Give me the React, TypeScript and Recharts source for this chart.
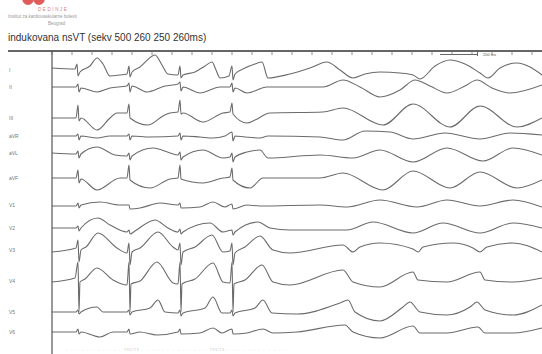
import React from 'react';
import { LineChart, Line, XAxis, YAxis } from 'recharts';

// lead names, top to bottom
const leadNames = ['I', 'II', 'III', 'aVR', 'aVL', 'aVF', 'V1', 'V2', 'V3', 'V4', 'V5', 'V6'];

// samples per lead: [time ms, amplitude mV]
const leadI = [
  [0, 0.2], [115, 0.1], [125, 0.6], [130, -0.6], [140, -0.2], [190, 0.4], [225, 1.2], [255, 0.6], [290, -0.6],
  [340, -0.5], [375, -0.4], [385, 0.4], [390, -0.7], [400, -0.2], [440, 0.3], [515, 1.5], [550, 0.5], [580, -0.4],
  [630, -0.5], [640, 0.4], [645, -0.8], [655, -0.5], [715, -0.2], [765, 0.4], [800, 0.8], [820, 0], [840, -0.8],
  [885, -0.6], [900, 0.4], [905, -1.0], [915, -0.4], [965, 0.2], [1015, 0.6], [1050, 0.8], [1080, -0.8],
  [1190, -0.4], [1290, 0.2], [1375, 0.8], [1440, 0], [1505, -0.8], [1565, -0.4], [1640, -0.2], [1740, -0.3],
  [1805, -0.5], [1840, -0.9], [1915, 0.4], [1990, 1.0], [2065, 0.6], [2140, -0.3], [2180, -0.8], [2240, 0.2],
  [2325, 0.7], [2390, 0.3], [2450, -0.5],
];
const leadII = [
  [0, 0], [120, 0], [130, 0.3], [135, -0.5], [145, -0.1], [225, -0.5], [290, -0.1], [375, 0.1], [385, 0.4],
  [390, -0.5], [400, 0.1], [475, -0.5], [565, 0.1], [630, 0.3], [640, 0.5], [645, -0.4], [655, 0], [740, -0.6],
  [840, 0], [890, 0], [900, 0.4], [905, -0.5], [915, -0.1], [975, -0.6], [1075, 0], [1355, 0], [1455, 0.7],
  [1540, 0], [1640, -1.0], [1740, -0.3], [1815, 0.7], [1890, 0.1], [1975, -0.6], [2065, 0.1], [2125, 0.7],
  [2200, -0.1], [2290, -0.6], [2450, 0.2],
];
const leadIII = [
  [0, 0], [120, 0], [130, 1.3], [135, -0.3], [145, 0], [225, -1.2], [290, 0], [325, 0.5], [375, 0.5], [385, 1.4],
  [390, 0], [480, -0.7], [555, 0.2], [590, 0.5], [630, 0.6], [640, 1.8], [645, 0.4], [655, 0.5], [755, -0.4],
  [855, 0.5], [890, 0.6], [900, 1.5], [905, 0.4], [975, -0.5], [1015, -0.2], [1090, 0.5], [1355, 0.6],
  [1455, 1.0], [1655, -0.7], [1805, 1.4], [1990, -0.9], [2140, 1.2], [2325, -0.9], [2450, 0],
];
const leadAVR = [
  [0, 0], [120, 0], [130, 0.2], [135, -0.4], [145, 0], [225, -0.2], [290, 0], [375, 0], [385, 0.2], [390, -0.4],
  [400, 0], [490, -0.1], [630, 0], [640, 0.3], [645, -0.4], [655, 0], [740, -0.1], [805, -0.2], [865, 0],
  [900, 0.4], [905, -0.5], [915, 0], [965, -0.1], [1040, -0.2], [1080, 0], [1340, -0.1], [1455, -0.4],
  [1565, 0.5], [1690, 0.4], [1805, -0.3], [1965, 0.3], [2140, -0.3], [2290, 0.3], [2450, 0.1],
];
const leadAVL = [
  [0, 0], [120, -0.1], [130, 0.2], [135, -0.5], [145, -0.1], [225, 0.6], [315, -0.2], [375, -0.3], [385, 0],
  [390, -0.7], [400, -0.3], [505, 0.5], [590, 0], [630, -0.2], [640, 0.1], [645, -0.7], [655, -0.4], [755, 0.3],
  [855, -0.5], [890, -0.4], [900, 0], [905, -0.9], [915, -0.4], [975, 0.1], [1040, 0.3], [1080, -0.5],
  [1340, -0.2], [1505, -0.5], [1640, 0.3], [1805, -0.9], [1975, 0.5], [2155, -0.8], [2305, 0.5], [2450, -0.2],
];
const leadAVF = [
  [0, 0], [120, 0], [130, 0.8], [135, -0.5], [145, -0.1], [225, -1.2], [340, 0], [375, 0], [385, 1.3], [390, -0.2],
  [490, -1.0], [590, -0.1], [630, 0], [640, 1.3], [645, -0.1], [755, -0.5], [855, 0], [890, 0.1], [900, 1.0],
  [905, -0.2], [990, -1.0], [1055, 0], [1340, 0], [1455, 0.5], [1655, -1.2], [1805, 0.7], [1990, -1.0],
  [2140, 0.6], [2325, -1.0], [2450, -0.2],
];
const leadV1 = [
  [0, -0.1], [120, -0.1], [130, 0.2], [135, -0.3], [145, 0], [240, 0.3], [340, 0], [385, 0], [390, -0.4],
  [440, -0.3], [540, 0.2], [630, 0], [640, 0.2], [645, -0.3], [740, -0.2], [805, 0.3], [865, -0.2], [900, 0.1],
  [905, -0.4], [975, 0], [1040, -0.1], [1340, 0], [1475, -0.2], [1640, 0.5], [1825, -0.2], [1975, 0.5],
  [2140, -0.1], [2305, 0.5], [2450, -0.2],
];
const leadV2 = [
  [0, 0], [120, 0], [130, 0.2], [135, -0.3], [145, 0], [230, 1.0], [290, 0.3], [375, -0.4], [385, -0.2],
  [390, -0.6], [415, -0.3], [515, 0.8], [580, 0], [630, -0.4], [640, -0.1], [645, -0.6], [655, -0.4], [790, 0.5],
  [855, -0.4], [900, -0.2], [905, -0.7], [915, -0.4], [1030, 0.6], [1090, 0], [1190, -0.2], [1475, -0.2],
  [1605, 0.6], [1805, -0.5], [1955, 0.5], [2140, -0.5], [2305, 0.5], [2450, 0],
];
const leadV3 = [
  [0, -0.2], [120, 0.2], [130, 1.0], [135, -1.2], [145, 0], [170, 0.3], [230, 1.7], [325, 0.2], [375, -0.3],
  [385, 0.7], [390, -1.5], [400, -0.2], [440, 0.2], [530, 1.8], [605, 0.3], [630, 0], [640, 0.7], [645, -1.5],
  [655, -0.2], [715, 0.3], [800, 1.5], [855, -0.2], [890, -0.1], [900, 0.7], [905, -1.5], [915, -0.3],
  [965, 0.3], [1040, 1.4], [1105, 0], [1190, -0.3], [1455, 0.5], [1505, -0.2], [1540, 0.3], [1640, 0.7],
  [1805, 0.1], [1830, -0.2], [1855, 0.3], [2005, 0.7], [2105, 0.2], [2140, -0.2], [2175, 0.3], [2305, 0.7],
  [2450, -0.2],
];
const leadV4 = [
  [0, -0.1], [115, 0.3], [130, 1.9], [135, -3.1], [140, -0.1], [165, 0.2], [225, 1.3], [305, 0.1], [375, -0.4],
  [385, 1.9], [390, -3.1], [395, -0.3], [440, 0], [525, 1.9], [605, -0.2], [630, -0.3], [640, 1.9], [645, -3.1],
  [650, -0.3], [715, 0.2], [805, 1.8], [855, -0.1], [890, -0.2], [900, 1.9], [905, -3.1], [910, -0.3],
  [965, 0.1], [1050, 1.6], [1105, -0.1], [1190, -0.4], [1455, 1.1], [1505, -0.1], [1640, -0.6], [1805, 0.9],
  [1830, 0.1], [1975, -0.1], [2140, 0.9], [2165, 0.1], [2305, -0.1], [2450, 0.3],
];
const leadV5 = [
  [0, 0], [120, 0], [130, 0.2], [135, -0.2], [145, 0], [225, 0.5], [255, 0], [375, 0], [385, 0.2], [390, -0.3],
  [400, 0], [490, 0.4], [530, 1.2], [565, 0], [630, -0.1], [640, 0.2], [645, -0.4], [655, -0.1], [765, 0.4],
  [805, 1.5], [850, -0.1], [890, -0.1], [900, 0.2], [905, -0.4], [915, -0.1], [1015, 0.4], [1055, 1.2],
  [1100, -0.1], [1225, -0.2], [1440, 0.9], [1480, 1.2], [1515, 0], [1640, -0.9], [1755, 0.5], [1790, 1.0],
  [1840, 0], [1975, -0.3], [2090, 0.5], [2125, 1.0], [2165, 0.2], [2305, -0.3], [2450, 0.7],
];
const leadV6 = [
  [0, 0], [120, 0], [130, 0.3], [135, -0.2], [145, 0], [240, -0.5], [305, 0], [375, 0], [385, 0.3], [390, -0.2],
  [440, 0], [525, -0.3], [630, 0], [640, 0.3], [645, -0.2], [740, -0.1], [805, 0.4], [850, -0.1], [900, 0.3],
  [905, -0.2], [975, -0.1], [1055, 0.3], [1105, -0.1], [1225, 0], [1465, 0.7], [1505, 0], [1640, -0.6],
  [1805, 0.6], [1840, -0.1], [1975, -0.1], [2130, 0.5], [2165, -0.1], [2305, -0.1], [2450, 0.4],
];

const leadData = [leadI, leadII, leadIII, leadAVR, leadAVL, leadAVF, leadV1, leadV2, leadV3, leadV4, leadV5, leadV6];

// time grid ticks along the top rule (100 ms)
const timeTicks = Array.from({ length: 25 }, (_, i) => i * 100);

// layout: baseline of each trace (px from top), 10 px per mV
const baselines = [70, 87, 118, 136, 153, 178, 205, 228, 250, 281, 312, 332];
const PX_PER_MV = 10;
const TOP = 51;
const W = 542;
const H = 354;

const traceColor = '#6b6b6b';

const LeadTick = (props: any) => {
  const { y, payload } = props;
  const idx = baselines.indexOf(-payload.value);
  return (
    <text x={9} y={y + 2} fontSize={5} fill="#777" fontFamily="Arial, Liberation Sans, sans-serif">
      {leadNames[idx]}
    </text>
  );
};

export default function App() {
  const series = leadData.map((pts, i) =>
    pts.map(([t, v]) => ({ t, y: -baselines[i] + v * PX_PER_MV }))
  );

  return (
    <div style={{ position: 'absolute', left: 0, top: 0, width: W, height: H, background: '#fff', overflow: 'hidden', fontFamily: 'Arial, "Liberation Sans", sans-serif' }}>
      {/* logo */}
      <div style={{ position: 'absolute', left: 22, top: -9, width: 12, height: 14, borderRadius: '50%', background: '#e25b5b' }} />
      <div style={{ position: 'absolute', left: 33, top: -9, width: 12, height: 14, borderRadius: '50%', background: '#e25b5b' }} />
      <div style={{ position: 'absolute', left: 38, top: 7, fontSize: 4.5, letterSpacing: 1.6, color: '#d98080' }}>DEDINJE</div>
      <div style={{ position: 'absolute', left: 8, top: 14, fontSize: 4.5, color: '#999', whiteSpace: 'nowrap' }}>Institut za kardiovaskularne bolesti</div>
      <div style={{ position: 'absolute', left: 48, top: 21, fontSize: 4.5, color: '#999' }}>Beograd</div>

      <div style={{ position: 'absolute', left: 8, top: 32, fontSize: 10, color: '#333', whiteSpace: 'nowrap' }}>
        indukovana nsVT (sekv 500 260 250 260ms)
      </div>

      {/* left extension of the top rule */}
      <div style={{ position: 'absolute', left: 8, top: TOP - 1, width: 46, height: 2, background: '#666' }} />

      {/* 200 ms scale bar */}
      <div style={{ position: 'absolute', left: 440, top: 54, width: 38, height: 1, background: '#666' }} />
      <div style={{ position: 'absolute', left: 477, top: 52, width: 1, height: 4, background: '#666' }} />
      <div style={{ position: 'absolute', left: 483, top: 52, fontSize: 4, color: '#555' }}>200 ms</div>

      <LineChart width={W} height={H} margin={{ top: TOP, right: 0, bottom: 0, left: 0 }} style={{ position: 'absolute', left: 0, top: 0 }}>
        <XAxis
          xAxisId={0}
          orientation="top"
          type="number"
          dataKey="t"
          domain={[0, 2450]}
          ticks={timeTicks}
          tickFormatter={() => ''}
          mirror
          tickSize={4}
          height={1}
          axisLine={{ stroke: '#666', strokeWidth: 2 }}
          tickLine={{ stroke: '#777', strokeWidth: 0.8 }}
          allowDataOverflow
        />
        <YAxis
          type="number"
          domain={[-H, -TOP]}
          ticks={baselines.map((b) => -b)}
          interval={0}
          width={52}
          tick={<LeadTick />}
          tickLine={false}
          axisLine={{ stroke: '#555', strokeWidth: 1.2 }}
          allowDataOverflow
        />
        {series.map((d, i) => (
          <Line
            key={leadNames[i]}
            data={d}
            dataKey="y"
            type="monotone"
            stroke={traceColor}
            strokeWidth={1.1}
            dot={false}
            isAnimationActive={false}
          />
        ))}
      </LineChart>

      {/* faint stimulus markers along the bottom */}
      <div style={{ position: 'absolute', left: 66, top: 347, fontSize: 4, color: '#c8c8c8', whiteSpace: 'nowrap', letterSpacing: 0.5 }}>
        -·  -·  -·  -·  -·  -·  -·  -·  -·  -·  -·  791/73  -·  -·  -·  -·  -·  -·  -·  -·  -·  -·  -·  -·  -·  791/73  -·  -·  -·  -·  -·  -·  -·  -·  -·  -·  -·  -·
      </div>
    </div>
  );
}
